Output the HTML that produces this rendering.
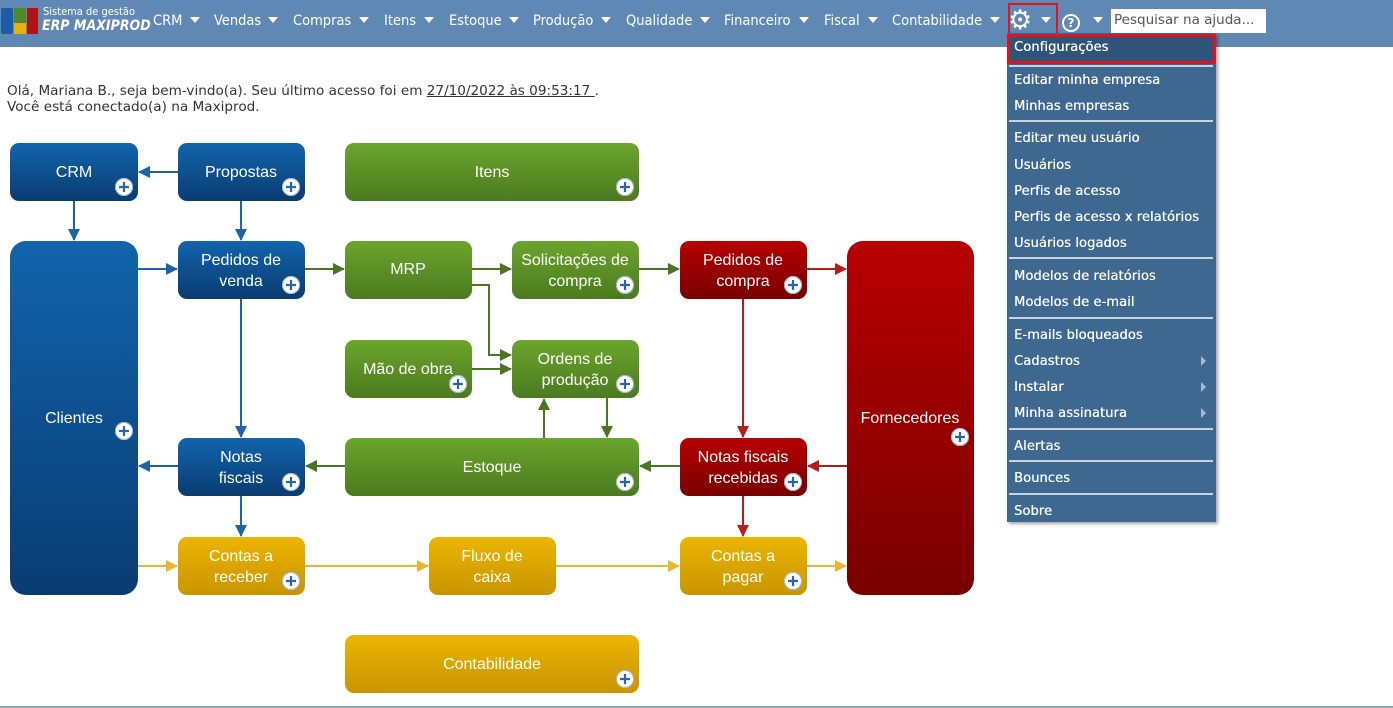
<!DOCTYPE html>
<html><head><meta charset="utf-8"><style>
*{margin:0;padding:0;box-sizing:border-box}
body{width:1393px;height:708px;background:#fff;position:relative;overflow:hidden;font-family:"DejaVu Sans","Liberation Sans",sans-serif}
.nav{position:absolute;left:0;top:0;width:1393px;height:47px;background:#5f88b5}
.n{position:absolute;top:13px;color:#fff;font-size:14.5px;font-family:"DejaVu Sans Condensed","DejaVu Sans",sans-serif}
.tri{position:absolute;top:17px;width:0;height:0;border-left:5px solid transparent;border-right:5px solid transparent;border-top:6px solid #fff}
.menu{position:absolute;left:1007px;top:33px;width:209px;height:489px;background:#3f6890;box-shadow:2px 2px 3px rgba(0,0,0,.35)}
.mi{position:absolute;left:7px;color:#fff;font-size:13px;letter-spacing:0.1px;text-shadow:0.3px 0 0 #fff}
.sep{position:absolute;left:2px;width:204px;height:2px;background:#c8d3de}
.arr{position:absolute;left:194px;width:0;height:0;border-top:5px solid transparent;border-bottom:5px solid transparent;border-left:5px solid #a9b9c9}
.txt{position:absolute;left:7px;font-size:13.6px;color:#333;font-family:"DejaVu Sans",sans-serif}
</style></head><body>
<div class="nav"></div>
<div style="position:absolute;left:1px;top:8px;width:12px;height:26px;background:#1b5ea8;border-radius:2px"></div>
<div style="position:absolute;left:14px;top:8px;width:12px;height:15px;background:#4e8a2a"></div>
<div style="position:absolute;left:14px;top:23px;width:12px;height:11px;background:#e5b010"></div>
<div style="position:absolute;left:27px;top:8px;width:11px;height:26px;background:#b11212"></div>
<div style="position:absolute;left:43px;top:5px;color:#fff;font-size:11px;font-family:'DejaVu Sans Condensed',sans-serif">Sistema de gestão</div>
<div style="position:absolute;left:42px;top:18px;color:#fff;font-size:14px;font-weight:bold;font-style:italic;font-family:'DejaVu Sans Condensed',sans-serif">ERP MAXIPROD</div>
<div class="n" style="left:153px">CRM</div><div class="tri" style="left:190px"></div>
<div class="n" style="left:214px">Vendas</div><div class="tri" style="left:268px"></div>
<div class="n" style="left:293px">Compras</div><div class="tri" style="left:359px"></div>
<div class="n" style="left:384px">Itens</div><div class="tri" style="left:424px"></div>
<div class="n" style="left:449px">Estoque</div><div class="tri" style="left:509px"></div>
<div class="n" style="left:533px">Produção</div><div class="tri" style="left:601px"></div>
<div class="n" style="left:626px">Qualidade</div><div class="tri" style="left:700px"></div>
<div class="n" style="left:724px">Financeiro</div><div class="tri" style="left:799px"></div>
<div class="n" style="left:824px">Fiscal</div><div class="tri" style="left:868px"></div>
<div class="n" style="left:892px">Contabilidade</div><div class="tri" style="left:990px"></div>
<div style="position:absolute;left:1008px;top:3px;width:50px;height:39px;border:2px solid #e0141e"></div>
<div style="position:absolute;left:1008px;top:7px;color:#fff;font-size:27px;line-height:28px">⚙</div>
<div class="tri" style="left:1041px"></div>
<div style="position:absolute;left:1062px;top:14px;width:18px;height:18px;border:2px solid #fff;border-radius:50%;color:#fff;font-size:12px;font-weight:bold;text-align:center;line-height:14px">?</div>
<div class="tri" style="left:1093px"></div>
<div style="position:absolute;left:1111px;top:9px;width:155px;height:24px;background:#fff;color:#555;font-size:13.5px;padding:3px 3px">Pesquisar na ajuda...</div>

<div class="txt" style="top:83px">Olá, Mariana B., seja bem-vindo(a). Seu último acesso foi em <u>27/10/2022 às 09:53:17 </u>.</div>
<div class="txt" style="top:99px">Você está conectado(a) na Maxiprod.</div>

<svg style="position:absolute;left:0;top:0" width="1000" height="708" font-family="Liberation Sans, sans-serif" font-size="16">
<defs>
<linearGradient id="b" x1="0" y1="0" x2="0" y2="1"><stop offset="0" stop-color="#1264ac"/><stop offset="1" stop-color="#093c72"/></linearGradient>
<linearGradient id="g" x1="0" y1="0" x2="0" y2="1"><stop offset="0" stop-color="#6ba52c"/><stop offset="1" stop-color="#4b7a1f"/></linearGradient>
<linearGradient id="r" x1="0" y1="0" x2="0" y2="1"><stop offset="0" stop-color="#b80000"/><stop offset="1" stop-color="#780000"/></linearGradient>
<linearGradient id="y" x1="0" y1="0" x2="0" y2="1"><stop offset="0" stop-color="#ebb500"/><stop offset="1" stop-color="#c99500"/></linearGradient>
<marker id="mb" markerWidth="12" markerHeight="12" refX="11" refY="6" orient="auto" markerUnits="userSpaceOnUse"><path d="M0,0L12,6L0,12z" fill="#1f62a8"/></marker>
<marker id="mg" markerWidth="12" markerHeight="12" refX="11" refY="6" orient="auto" markerUnits="userSpaceOnUse"><path d="M0,0L12,6L0,12z" fill="#4b7524"/></marker>
<marker id="mr" markerWidth="12" markerHeight="12" refX="11" refY="6" orient="auto" markerUnits="userSpaceOnUse"><path d="M0,0L12,6L0,12z" fill="#b51d1d"/></marker>
<marker id="my" markerWidth="12" markerHeight="12" refX="11" refY="6" orient="auto" markerUnits="userSpaceOnUse"><path d="M0,0L12,6L0,12z" fill="#eab530"/></marker>
<g id="p"><circle r="9" fill="#fff"/><path d="M-5,0H5M0,-5V5" stroke="#2a64a8" stroke-width="2.2"/><circle r="8.5" fill="none" stroke="#9fb6d2" stroke-width="1"/></g>
</defs>
<g stroke-width="2" fill="none">
<path d="M178,172H139" stroke="#1f62a8" marker-end="url(#mb)"/>
<path d="M74,201V240" stroke="#1f62a8" marker-end="url(#mb)"/>
<path d="M241,201V240" stroke="#1f62a8" marker-end="url(#mb)"/>
<path d="M138,269H177" stroke="#1f62a8" marker-end="url(#mb)"/>
<path d="M241,299V437" stroke="#1f62a8" marker-end="url(#mb)"/>
<path d="M178,466H139" stroke="#1f62a8" marker-end="url(#mb)"/>
<path d="M241,496V536" stroke="#1f62a8" marker-end="url(#mb)"/>
<path d="M305,269H344" stroke="#4b7524" marker-end="url(#mg)"/>
<path d="M472,269H511" stroke="#4b7524" marker-end="url(#mg)"/>
<path d="M639,269H679" stroke="#4b7524" marker-end="url(#mg)"/>
<path d="M472,285H489V355H511" stroke="#4b7524" marker-end="url(#mg)"/>
<path d="M472,369H511" stroke="#4b7524" marker-end="url(#mg)"/>
<path d="M544,438V399" stroke="#4b7524" marker-end="url(#mg)"/>
<path d="M607,398V437" stroke="#4b7524" marker-end="url(#mg)"/>
<path d="M345,466H306" stroke="#4b7524" marker-end="url(#mg)"/>
<path d="M680,466H640" stroke="#4b7524" marker-end="url(#mg)"/>
<path d="M807,269H846" stroke="#b51d1d" marker-end="url(#mr)"/>
<path d="M743,299V437" stroke="#b51d1d" marker-end="url(#mr)"/>
<path d="M847,466H808" stroke="#b51d1d" marker-end="url(#mr)"/>
<path d="M743,496V536" stroke="#b51d1d" marker-end="url(#mr)"/>
<path d="M138,566H177" stroke="#eab530" marker-end="url(#my)"/>
<path d="M305,566H428" stroke="#eab530" marker-end="url(#my)"/>
<path d="M556,566H679" stroke="#eab530" marker-end="url(#my)"/>
<path d="M807,566H846" stroke="#eab530" marker-end="url(#my)"/>
</g>
<g fill="#fff" text-anchor="middle">
<rect x="10" y="143" width="128" height="58" rx="9" fill="url(#b)"/><text x="74" y="177">CRM</text><use href="#p" x="124" y="187"/>
<rect x="178" y="143" width="127" height="58" rx="9" fill="url(#b)"/><text x="241" y="177">Propostas</text><use href="#p" x="291" y="187"/>
<rect x="345" y="143" width="294" height="58" rx="9" fill="url(#g)"/><text x="492" y="177">Itens</text><use href="#p" x="625" y="187"/>
<rect x="10" y="241" width="128" height="354" rx="16" fill="url(#b)"/><text x="74" y="423">Clientes</text><use href="#p" x="124" y="431"/>
<rect x="178" y="241" width="127" height="58" rx="9" fill="url(#b)"/><text x="241" y="265">Pedidos de</text><text x="241" y="286">venda</text><use href="#p" x="291" y="285"/>
<rect x="345" y="241" width="127" height="58" rx="9" fill="url(#g)"/><text x="408" y="274">MRP</text>
<rect x="512" y="241" width="127" height="58" rx="9" fill="url(#g)"/><text x="575" y="265">Solicitações de</text><text x="575" y="286">compra</text><use href="#p" x="625" y="285"/>
<rect x="680" y="241" width="127" height="58" rx="9" fill="url(#r)"/><text x="743" y="265">Pedidos de</text><text x="743" y="286">compra</text><use href="#p" x="793" y="285"/>
<rect x="847" y="241" width="127" height="354" rx="16" fill="url(#r)"/><text x="910" y="423">Fornecedores</text><use href="#p" x="960" y="437"/>
<rect x="345" y="340" width="127" height="58" rx="9" fill="url(#g)"/><text x="408" y="374">Mão de obra</text><use href="#p" x="458" y="384"/>
<rect x="512" y="340" width="127" height="58" rx="9" fill="url(#g)"/><text x="575" y="364">Ordens de</text><text x="575" y="385">produção</text><use href="#p" x="625" y="384"/>
<rect x="178" y="438" width="127" height="58" rx="9" fill="url(#b)"/><text x="241" y="462">Notas</text><text x="241" y="483">fiscais</text><use href="#p" x="291" y="482"/>
<rect x="345" y="438" width="294" height="58" rx="9" fill="url(#g)"/><text x="492" y="472">Estoque</text><use href="#p" x="625" y="482"/>
<rect x="680" y="438" width="127" height="58" rx="9" fill="url(#r)"/><text x="743" y="462">Notas fiscais</text><text x="743" y="483">recebidas</text><use href="#p" x="793" y="482"/>
<rect x="178" y="537" width="127" height="58" rx="9" fill="url(#y)"/><text x="241" y="561">Contas a</text><text x="241" y="582">receber</text><use href="#p" x="291" y="581"/>
<rect x="429" y="537" width="127" height="58" rx="9" fill="url(#y)"/><text x="492" y="561">Fluxo de</text><text x="492" y="582">caixa</text>
<rect x="680" y="537" width="127" height="58" rx="9" fill="url(#y)"/><text x="743" y="561">Contas a</text><text x="743" y="582">pagar</text><use href="#p" x="793" y="581"/>
<rect x="345" y="635" width="294" height="58" rx="9" fill="url(#y)"/><text x="492" y="669">Contabilidade</text><use href="#p" x="625" y="679"/>
</g>
</svg>

<div class="menu">
<div style="position:absolute;left:0;top:1px;width:209px;height:30px;background:#2e5579;border:3px solid #e0141e"></div>
<div class="mi" style="top:7px">Configurações</div>
<div class="sep" style="top:32px"></div>
<div class="mi" style="top:40px">Editar minha empresa</div>
<div class="mi" style="top:66px">Minhas empresas</div>
<div class="sep" style="top:87px"></div>
<div class="mi" style="top:98px">Editar meu usuário</div>
<div class="mi" style="top:125px">Usuários</div>
<div class="mi" style="top:151px">Perfis de acesso</div>
<div class="mi" style="top:177px">Perfis de acesso x relatórios</div>
<div class="mi" style="top:203px">Usuários logados</div>
<div class="sep" style="top:224px"></div>
<div class="mi" style="top:236px">Modelos de relatórios</div>
<div class="mi" style="top:262px">Modelos de e-mail</div>
<div class="sep" style="top:284px"></div>
<div class="mi" style="top:295px">E-mails bloqueados</div>
<div class="mi" style="top:321px">Cadastros</div><div class="arr" style="top:323px"></div>
<div class="mi" style="top:347px">Instalar</div><div class="arr" style="top:349px"></div>
<div class="mi" style="top:373px">Minha assinatura</div><div class="arr" style="top:375px"></div>
<div class="sep" style="top:395px"></div>
<div class="mi" style="top:406px">Alertas</div>
<div class="sep" style="top:427px"></div>
<div class="mi" style="top:438px">Bounces</div>
<div class="sep" style="top:460px"></div>
<div class="mi" style="top:471px">Sobre</div>
</div>
<div style="position:absolute;left:0;top:706px;width:1393px;height:2px;background:#8aa"></div>
</body></html>
